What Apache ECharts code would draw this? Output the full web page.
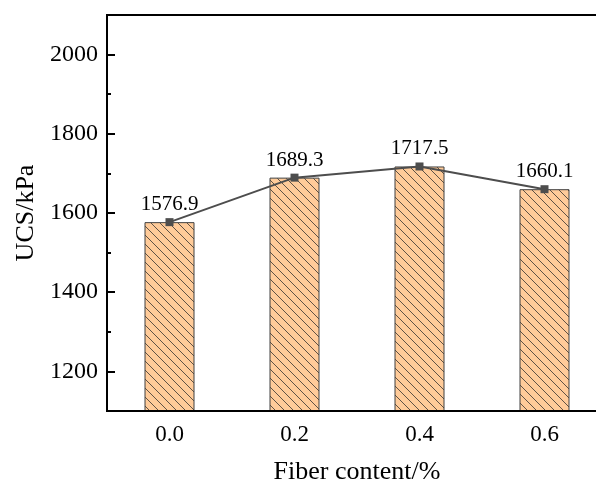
<!DOCTYPE html>
<html>
<head>
<meta charset="utf-8">
<script src="https://cdn.jsdelivr.net/npm/echarts@6/dist/echarts.min.js"></script>
<style>html,body{margin:0;padding:0;background:#fff}#c{width:596px;height:484px}</style>
</head>
<body>
<div id="c"></div>
<script>
const categories = ['0.0', '0.2', '0.4', '0.6'];
const ucsValues = [1576.9, 1689.3, 1717.5, 1660.1];
const yTickLabels = [1200, 1400, 1600, 1800, 2000];
const yMinorTicks = [1100, 1300, 1500, 1700, 1900, 2100];

function hatch() {
  const s = 9;
  const c = document.createElement('canvas');
  c.width = s; c.height = s;
  const g = c.getContext('2d');
  g.fillStyle = '#FFCB99';
  g.fillRect(0, 0, s, s);
  g.strokeStyle = '#2a2a2a';
  g.lineWidth = 0.75;
  g.beginPath();
  g.moveTo(-1, -1); g.lineTo(s + 1, s + 1);
  g.moveTo(s - 1, -1); g.lineTo(s + 1, 1);
  g.moveTo(-1, s - 1); g.lineTo(1, s + 1);
  g.stroke();
  return c;
}

const font = 'Liberation Serif';
const chart = echarts.init(document.getElementById('c'), null, {renderer: 'canvas'});
chart.setOption({
  animation: false,
  grid: {left: 107, top: 15, width: 500, height: 396, outerBoundsMode: 'none', containLabel: false,
    show: true, borderColor: '#000', borderWidth: 2, backgroundColor: 'transparent'},
  xAxis: [{
    type: 'category', data: categories, z: 5,
    name: 'Fiber content/%', nameLocation: 'middle', nameGap: 48,
    nameTextStyle: {fontFamily: font, fontSize: 26, color: '#000'},
    axisLine: {lineStyle: {color: '#000', width: 2}},
    axisTick: {alignWithLabel: true, inside: true, length: 7, lineStyle: {color: '#000', width: 2}},
    axisLabel: {fontFamily: font, fontSize: 23, color: '#000', margin: 12}
  }, {
    type: 'category', data: categories, position: 'bottom', z: 5,
    axisLine: {show: false},
    axisTick: {inside: true, length: 3, lineStyle: {color: '#000', width: 2}},
    axisLabel: {show: false}
  }],
  yAxis: [{
    type: 'value', min: 1100, max: 2100, z: 5,
    name: 'UCS/kPa', nameLocation: 'middle', nameGap: 62,
    nameTextStyle: {fontFamily: font, fontSize: 26, color: '#000'},
    splitLine: {show: false},
    axisLine: {show: true, lineStyle: {color: '#000', width: 2}},
    axisTick: {show: true, inside: true, length: 8, customValues: yTickLabels, lineStyle: {color: '#000', width: 2}},
    axisLabel: {fontFamily: font, fontSize: 24, color: '#000', margin: 9, customValues: yTickLabels,
      formatter: v => String(v)}
  }, {
    type: 'value', min: 1100, max: 2100, position: 'left', z: 5,
    splitLine: {show: false},
    axisLine: {show: false},
    axisTick: {show: true, inside: true, length: 4, customValues: yMinorTicks, lineStyle: {color: '#000', width: 2}},
    axisLabel: {show: false}
  }],
  series: [{
    type: 'bar', data: ucsValues, barWidth: 50, xAxisIndex: 0, yAxisIndex: 0,
    itemStyle: {color: {image: hatch(), repeat: 'repeat'}, borderColor: '#404040', borderWidth: 1}
  }, {
    type: 'line', data: ucsValues, xAxisIndex: 0, yAxisIndex: 0, z: 4,
    symbol: 'rect', symbolSize: 8,
    lineStyle: {color: '#4d4d4d', width: 2},
    itemStyle: {color: '#4d4d4d'},
    label: {show: true, position: 'top', distance: 3, fontFamily: font, fontSize: 21, color: '#000',
      formatter: p => p.value.toFixed(1)}
  }]
});
</script>
</body>
</html>
